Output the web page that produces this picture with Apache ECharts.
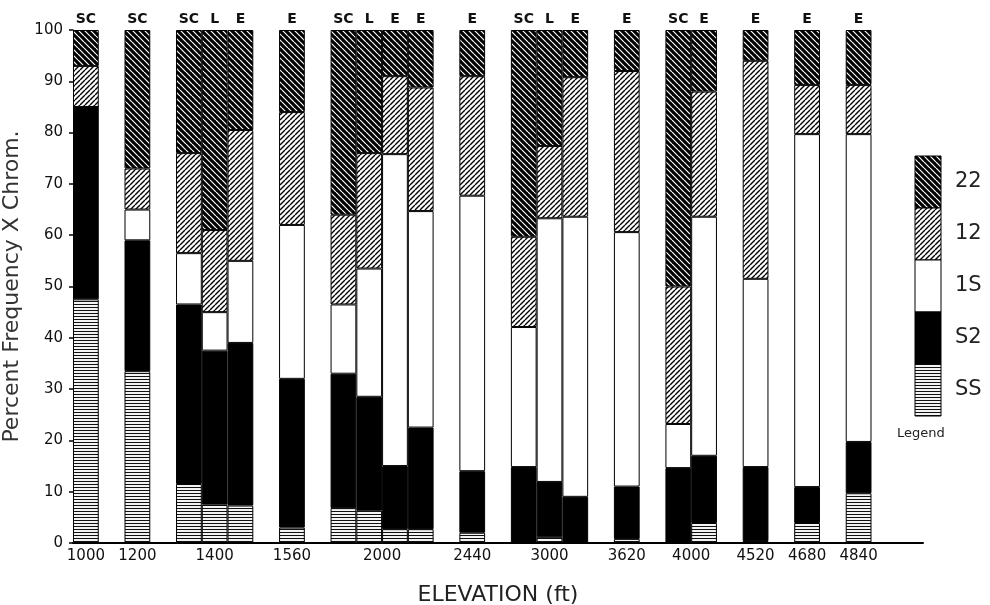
<!DOCTYPE html>
<html>
<head>
<meta charset="utf-8">
<title>Percent Frequency X Chrom.</title>
<script src="https://cdn.jsdelivr.net/npm/echarts@6/dist/echarts.min.js"></script>
<style>
  html, body { margin: 0; padding: 0; background: #fff; }
  #main { width: 990px; height: 605px; }
</style>
</head>
<body>
<div id="main"></div>
<script>
// elevation groups and the population type of each bar in the group
const elevations = ["1000", "1200", "1400", "1560", "2000", "2440", "3000", "3620", "4000", "4520", "4680", "4840"];
const groupTypes = [["SC"], ["SC"], ["SC", "L", "E"], ["E"], ["SC", "L", "E", "E"], ["E"], ["SC", "L", "E"], ["E"], ["SC", "E"], ["E"], ["E"], ["E"]];

// percent of each chromosome arrangement, one value per bar (bottom to top)
const valSS = [47.5, 33.5, 11.5, 7.5, 7.3, 3, 6.8, 6.3, 2.7, 2.7, 2, 0, 1.2, 0, 0.8, 0, 3.9, 0.4, 3.9, 9.7];
const valS2 = [37.5, 25.5, 35, 30, 31.7, 29, 26.2, 22.2, 12.3, 19.8, 12, 14.8, 10.7, 9, 10.2, 14.6, 13.1, 14.4, 7, 10];
const val1S = [0, 6, 10, 7.5, 16, 30, 13.5, 25, 60.8, 42.2, 53.7, 27.3, 51.4, 54.6, 49.6, 8.6, 46.6, 36.7, 68.8, 60];
const val12 = [8, 8, 19.5, 16, 25.5, 22, 17.5, 22.5, 15.2, 24.1, 23.3, 17.6, 14.1, 27.2, 31.4, 26.8, 24.4, 42.5, 9.6, 9.6];
const val22 = [7, 27, 24, 39, 19.5, 16, 36, 24, 9, 11.2, 9, 40.3, 22.6, 9.2, 8, 50, 12, 6, 10.7, 10.7];

const yTicks = [0, 10, 20, 30, 40, 50, 60, 70, 80, 90, 100];
const legendNames = ["22", "12", "1S", "S2", "SS"];

// lay the bars out in slots: bars of a group touch, one empty slot between groups
const slots = [];
const labelPos = [];
const barTypes = [];
let barIdx = 0;
groupTypes.forEach((types) => {
  const start = slots.length;
  types.forEach((t) => {
    slots.push(barIdx++);
    barTypes.push(t);
  });
  labelPos.push(start + types.length / 2);
  slots.push(null);
});
while (slots.length < 33) slots.push(null);

function slotData(arr) {
  return slots.map((b) => (b === null ? "-" : arr[b]));
}

// hatch fills
function hatch(size, bg, fg, lw, dir) {
  const c = document.createElement("canvas");
  c.width = size;
  c.height = size;
  const ctx = c.getContext("2d");
  ctx.fillStyle = bg;
  ctx.fillRect(0, 0, size, size);
  ctx.strokeStyle = fg;
  ctx.lineWidth = lw;
  ctx.beginPath();
  if (dir === "-") {
    ctx.moveTo(0, size / 2);
    ctx.lineTo(size, size / 2);
  } else {
    for (let k = -1; k <= 1; k++) {
      if (dir === "\\") {
        ctx.moveTo(k * size, 0);
        ctx.lineTo(k * size + size, size);
      } else {
        ctx.moveTo(k * size, size);
        ctx.lineTo(k * size + size, 0);
      }
    }
  }
  ctx.stroke();
  return { image: c, repeat: "repeat" };
}

const fills = {
  SS: hatch(3, "#ffffff", "#111111", 1.1, "-"),
  S2: "#000000",
  "1S": "#ffffff",
  "12": hatch(5, "#ffffff", "#000000", 1.4, "/"),
  "22": hatch(6, "#000000", "#ffffff", 1.2, "\\"),
};

const font = "DejaVu Sans";
const chart = echarts.init(document.getElementById("main"), null, { renderer: "canvas" });

function barSeries(name, arr, withLabel) {
  return {
    name: name,
    type: "bar",
    stack: "all",
    xAxisIndex: 0,
    barCategoryGap: "0%",
    itemStyle: {
      color: fills[name],
      borderColor: "#000",
      borderWidth: 1,
    },
    label: withLabel
      ? {
          show: true,
          position: "top",
          distance: 4,
          fontFamily: font,
          fontSize: 14,
          fontWeight: "bold",
          color: "#111",
          formatter: (p) => barTypes[slots[p.dataIndex]] || "",
        }
      : { show: false },
    emphasis: { disabled: true },
    data: slotData(arr),
  };
}

// legend box: a column of swatches with names on the right
const legendBox = [];
legendNames.forEach((n, i) => {
  legendBox.push({
    type: "rect",
    shape: { x: 915, y: 156 + i * 52, width: 26, height: 52 },
    style: { fill: fills[n], stroke: "#000", lineWidth: 1 },
  });
  legendBox.push({
    type: "text",
    x: 955,
    y: 182 + i * 52,
    style: { text: n, fontFamily: font, fontSize: 21, fill: "#222", verticalAlign: "middle" },
  });
});
legendBox.push({
  type: "text",
  x: 897,
  y: 427,
  style: { text: "Legend", fontFamily: font, fontSize: 13, fill: "#222" },
});

chart.setOption({
  animation: false,
  backgroundColor: "#fff",
  grid: { left: 73, right: 67, top: 30, bottom: 62, containLabel: false, outerBoundsMode: "none" },
  graphic: legendBox,
  xAxis: [
    {
      type: "category",
      data: slots.map((b, i) => String(i)),
      position: "bottom",
      axisLine: { show: true, lineStyle: { color: "#000", width: 2 } },
      axisTick: { show: false },
      axisLabel: { show: false },
      splitLine: { show: false },
    },
    {
      type: "value",
      min: 0,
      max: 33,
      position: "bottom",
      name: "ELEVATION (ft)",
      nameLocation: "middle",
      nameGap: 41,
      nameTextStyle: { fontFamily: font, fontSize: 22, color: "#222" },
      axisLine: { show: false },
      axisTick: { show: false },
      splitLine: { show: false },
      axisLabel: {
        customValues: labelPos,
        margin: 6,
        fontFamily: font,
        fontSize: 15,
        color: "#111",
        formatter: (v) => {
          const i = labelPos.indexOf(v);
          return i >= 0 ? elevations[i] : "";
        },
      },
    },
  ],
  yAxis: {
    type: "value",
    min: 0,
    max: 100,
    interval: 10,
    name: "Percent Frequency X Chrom.",
    nameLocation: "middle",
    nameGap: 44,
    nameTextStyle: { fontFamily: font, fontSize: 22, color: "#333" },
    axisLine: { show: true, lineStyle: { color: "#000", width: 1 } },
    axisTick: { show: true, length: 4, lineStyle: { color: "#000", width: 1.5 } },
    splitLine: { show: false },
    axisLabel: {
      margin: 10,
      fontFamily: font,
      fontSize: 15,
      color: "#111",
      customValues: yTicks,
    },
  },
  series: [
    barSeries("SS", valSS, false),
    barSeries("S2", valS2, false),
    barSeries("1S", val1S, false),
    barSeries("12", val12, false),
    barSeries("22", val22, true),
  ],
});
</script>
</body>
</html>
